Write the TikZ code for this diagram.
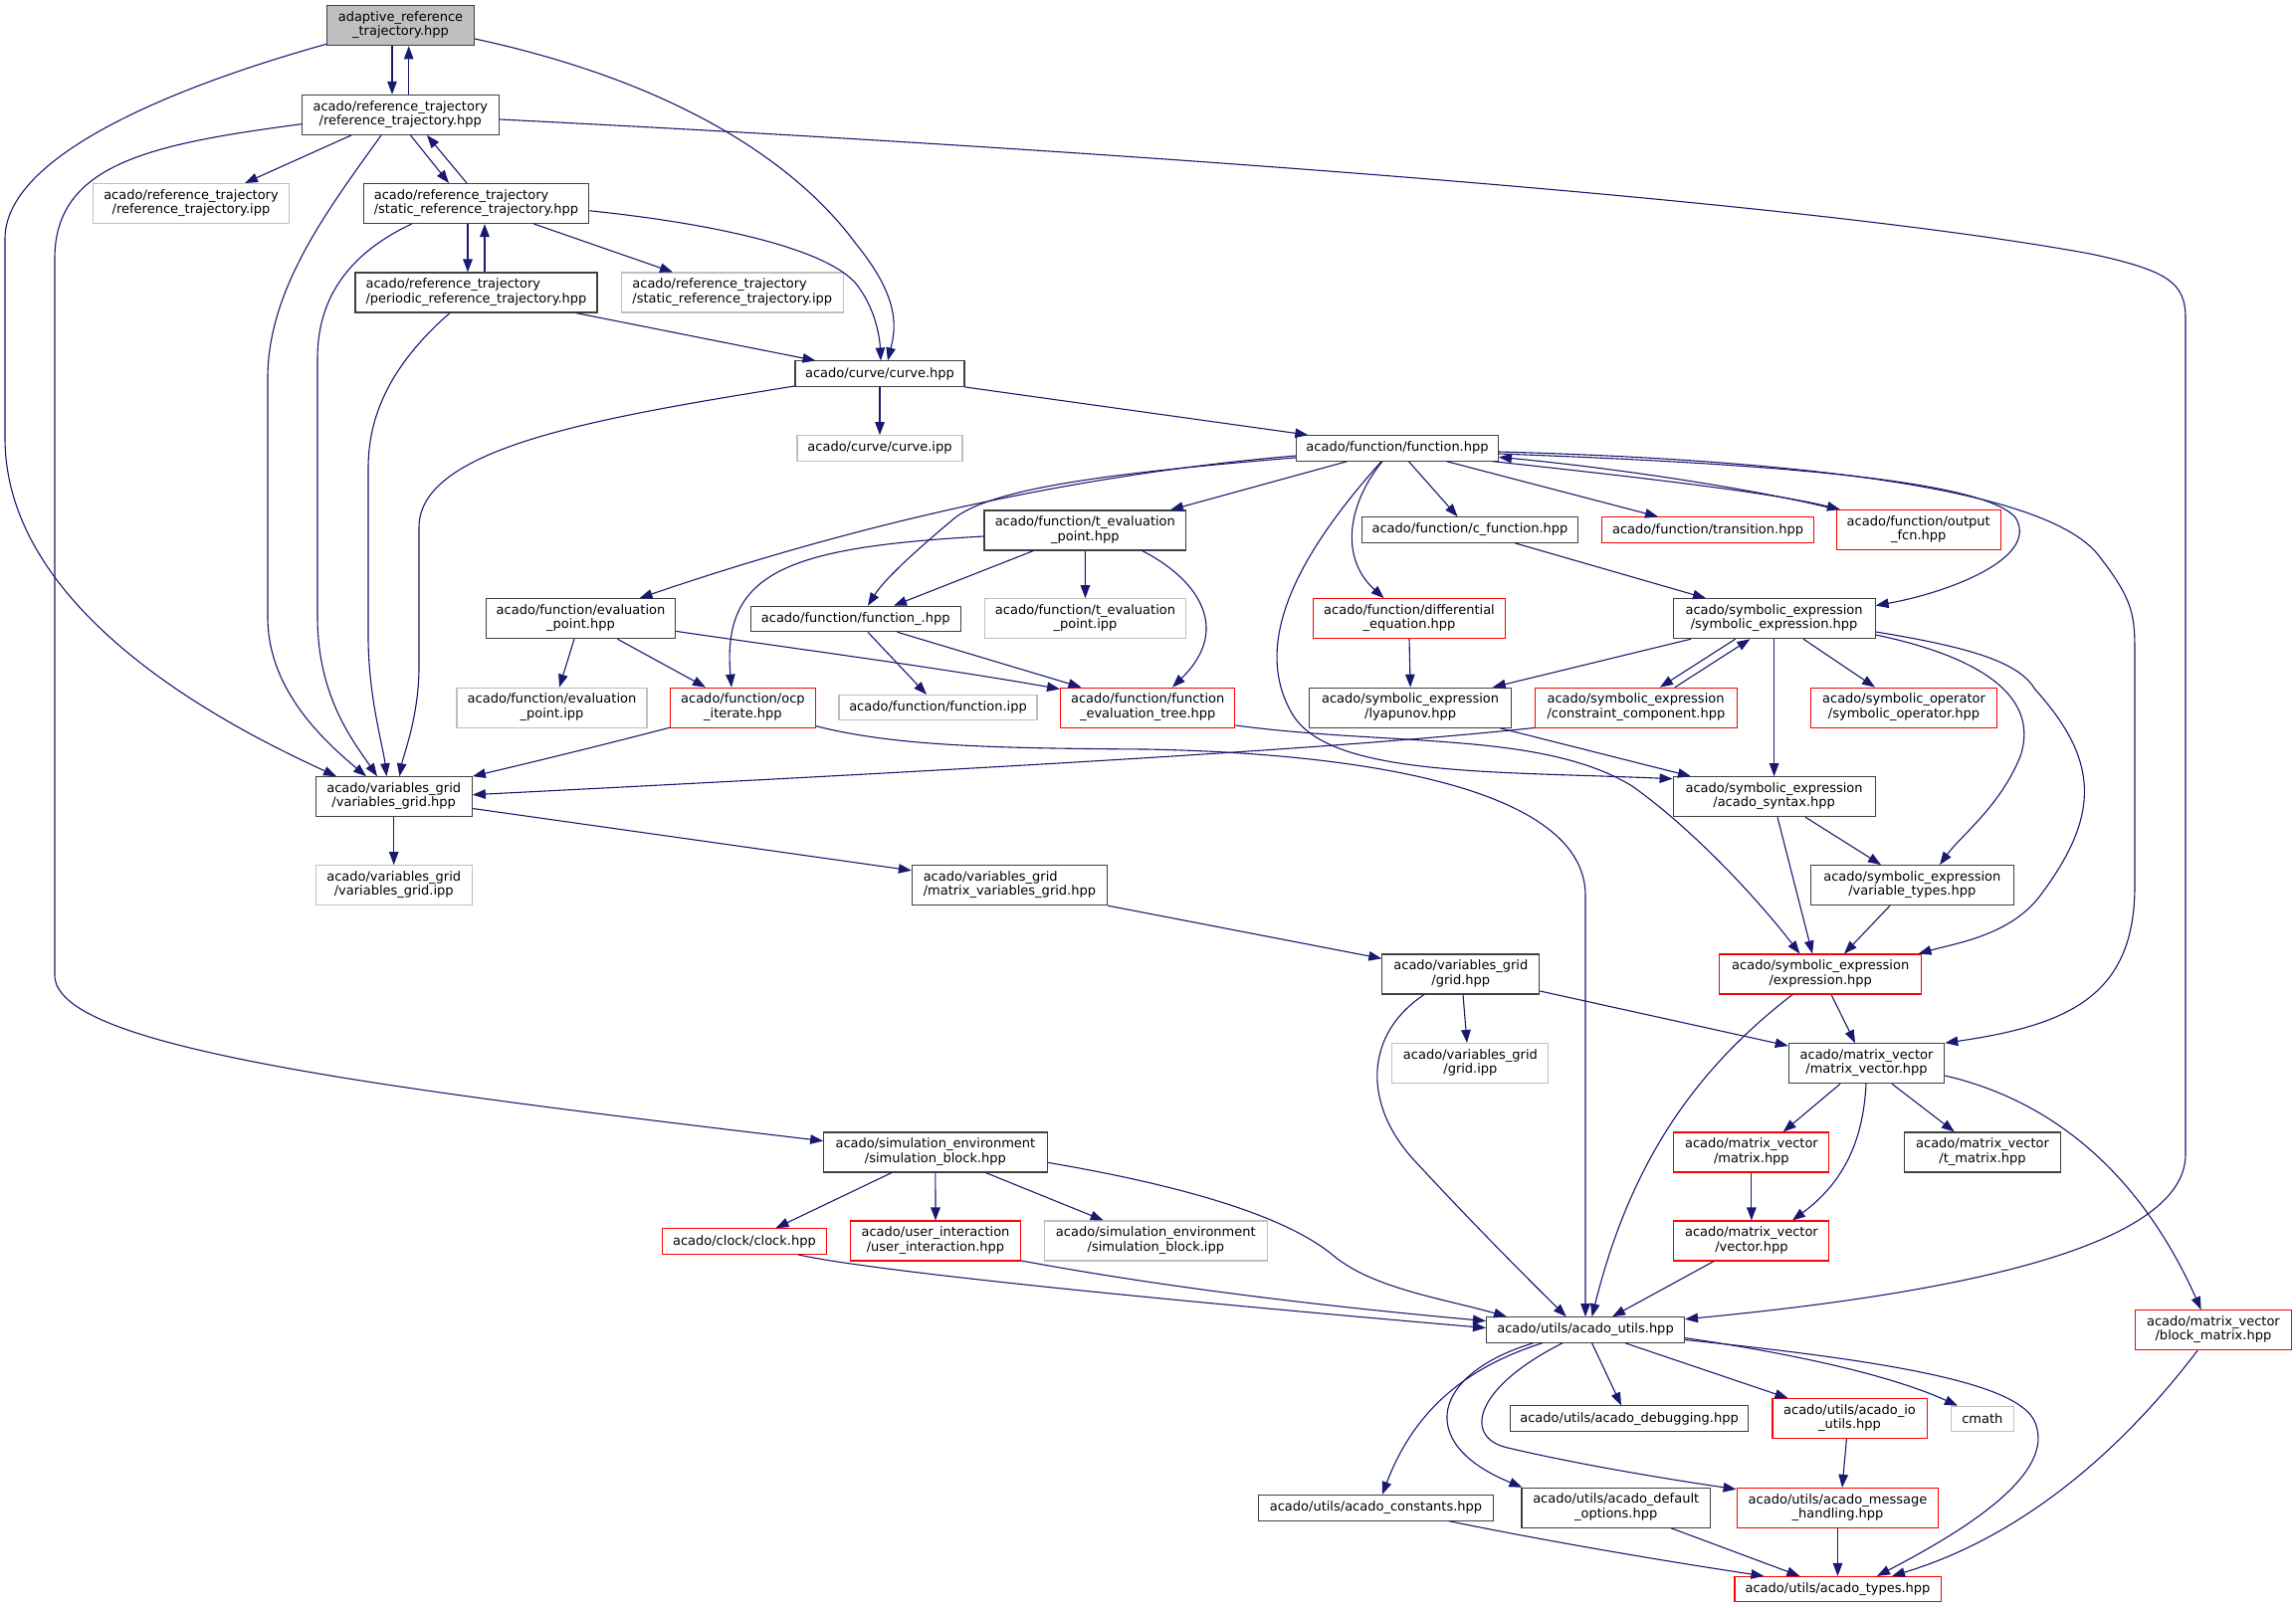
\documentclass[tikz,border=0pt]{standalone}
\usepackage{fontspec}
\setmainfont{DejaVu Sans}
\usetikzlibrary{arrows.meta,calc}
\definecolor{mblue}{HTML}{191970}
\definecolor{gline}{HTML}{BFBFBF}
\definecolor{nline}{HTML}{404040}
\definecolor{rline}{HTML}{FF0000}
\newcommand{\twol}[2]{\begin{tabular}{@{}c@{}}\multicolumn{1}{@{}l@{}}{#1}\\#2\end{tabular}}
\begin{document}
\begin{tikzpicture}[x=1pt,y=-1pt,
  box/.style={draw=nline, fill=white, line width=1.05pt, inner sep=0pt, font=\fontsize{13}{14.5}\selectfont, align=center},
  rbox/.style={box, draw=rline},
  gbox/.style={box, draw=gline},
  root/.style={box, fill=gline},
  one/.style={minimum height=25.5pt},
  tw/.style={minimum height=40pt},
  edg/.style={draw=mblue, line width=1.1pt, -{Triangle[length=13pt,width=9.5pt]}}]
\useasboundingbox (0,0) rectangle (2307,1616);
% nodes
\node[root,tw,minimum width=148pt] (A) at (402.5,25.8) {\twol{adaptive\_reference}{\_trajectory.hpp}};
\node[box,tw,minimum width=198pt] (RT) at (402.3,115.4) {\twol{acado/reference\_trajectory}{/reference\_trajectory.hpp}};
\node[gbox,tw,minimum width=197.6pt] (RTI) at (192,204.5) {\twol{acado/reference\_trajectory}{/reference\_trajectory.ipp}};
\node[box,tw,minimum width=226.7pt] (SRT) at (478.5,204.5) {\twol{acado/reference\_trajectory}{/static\_reference\_trajectory.hpp}};
\node[box,tw,minimum width=243pt] (PRT) at (478.5,294) {\twol{acado/reference\_trajectory}{/periodic\_reference\_trajectory.hpp}};
\node[gbox,tw,minimum width=222.7pt] (SRTI) at (735.8,294) {\twol{acado/reference\_trajectory}{/static\_reference\_trajectory.ipp}};
\node[box,one,minimum width=170pt] (CRV) at (884,375.7) {acado/curve/curve.hpp};
\node[gbox,one,minimum width=166pt] (CRVI) at (884,450.4) {acado/curve/curve.ipp};
\node[box,one,minimum width=202.7pt] (FN) at (1404,450.4) {acado/function/function.hpp};
\node[box,tw,minimum width=202.6pt] (TEP) at (1090.3,533) {\twol{acado/function/t\_evaluation}{\_point.hpp}};
\node[box,one,minimum width=217.6pt] (CF) at (1477,532.5) {acado/function/c\_function.hpp};
\node[rbox,one,minimum width=212.4pt] (TR) at (1716,532.5) {acado/function/transition.hpp};
\node[rbox,tw,minimum width=164.6pt] (OF) at (1927.7,532.5) {\twol{acado/function/output}{\_fcn.hpp}};
\node[box,tw,minimum width=190.5pt] (EP) at (583.5,621.7) {\twol{acado/function/evaluation}{\_point.hpp}};
\node[box,one,minimum width=210.9pt] (FU) at (859.7,622) {acado/function/function\_.hpp};
\node[gbox,tw,minimum width=202.3pt] (TEPI) at (1090.5,621.7) {\twol{acado/function/t\_evaluation}{\_point.ipp}};
\node[rbox,tw,minimum width=193.5pt] (DE) at (1416,621.7) {\twol{acado/function/differential}{\_equation.hpp}};
\node[box,tw,minimum width=203pt] (SE) at (1782.6,621.7) {\twol{acado/symbolic\_expression}{/symbolic\_expression.hpp}};
\node[gbox,tw,minimum width=191pt] (EPI) at (554.5,711.2) {\twol{acado/function/evaluation}{\_point.ipp}};
\node[rbox,tw,minimum width=146pt] (OCP) at (746.4,711.2) {\twol{acado/function/ocp}{\_iterate.hpp}};
\node[gbox,one,minimum width=199pt] (FI) at (942.5,711.2) {acado/function/function.ipp};
\node[rbox,tw,minimum width=175.3pt] (FET) at (1153.2,711.2) {\twol{acado/function/function}{\_evaluation\_tree.hpp}};
\node[box,tw,minimum width=202.4pt] (LY) at (1417.1,711.2) {\twol{acado/symbolic\_expression}{/lyapunov.hpp}};
\node[rbox,tw,minimum width=203pt] (CC) at (1643.9,711.2) {\twol{acado/symbolic\_expression}{/constraint\_component.hpp}};
\node[rbox,tw,minimum width=187pt] (SO) at (1913,711.2) {\twol{acado/symbolic\_operator}{/symbolic\_operator.hpp}};
\node[box,tw,minimum width=157.3pt] (VG) at (395.7,800.7) {\twol{acado/variables\_grid}{/variables\_grid.hpp}};
\node[box,tw,minimum width=203pt] (AS) at (1782.6,800.7) {\twol{acado/symbolic\_expression}{/acado\_syntax.hpp}};
\node[gbox,tw,minimum width=157.3pt] (VGI) at (395.7,889.6) {\twol{acado/variables\_grid}{/variables\_grid.ipp}};
\node[box,tw,minimum width=196pt] (MVG) at (1014.4,889.6) {\twol{acado/variables\_grid}{/matrix\_variables\_grid.hpp}};
\node[box,tw,minimum width=203.5pt] (VT) at (1921.3,889.6) {\twol{acado/symbolic\_expression}{/variable\_types.hpp}};
\node[box,tw,minimum width=158pt] (GR) at (1467.8,979) {\twol{acado/variables\_grid}{/grid.hpp}};
\node[rbox,tw,minimum width=202.5pt] (EX) at (1829.2,979) {\twol{acado/symbolic\_expression}{/expression.hpp}};
\node[gbox,tw,minimum width=157pt] (GRI) at (1477.4,1068.5) {\twol{acado/variables\_grid}{/grid.ipp}};
\node[box,tw,minimum width=156.5pt] (MV) at (1875.5,1068.7) {\twol{acado/matrix\_vector}{/matrix\_vector.hpp}};
\node[box,tw,minimum width=224.5pt] (SB) at (939.9,1158) {\twol{acado/simulation\_environment}{/simulation\_block.hpp}};
\node[rbox,tw,minimum width=156pt] (MX) at (1759.9,1158) {\twol{acado/matrix\_vector}{/matrix.hpp}};
\node[box,tw,minimum width=156.5pt] (TM) at (1992,1158) {\twol{acado/matrix\_vector}{/t\_matrix.hpp}};
\node[rbox,one,minimum width=165.3pt] (CL) at (747.9,1247.5) {acado/clock/clock.hpp};
\node[rbox,tw,minimum width=171pt] (UI) at (940,1247) {\twol{acado/user\_interaction}{/user\_interaction.hpp}};
\node[gbox,tw,minimum width=224pt] (SBI) at (1161.3,1247) {\twol{acado/simulation\_environment}{/simulation\_block.ipp}};
\node[rbox,tw,minimum width=156pt] (VC) at (1759.9,1247) {\twol{acado/matrix\_vector}{/vector.hpp}};
\node[box,one,minimum width=199pt] (AU) at (1593,1336.5) {acado/utils/acado\_utils.hpp};
\node[rbox,tw,minimum width=157pt] (BM) at (2223.9,1336.7) {\twol{acado/matrix\_vector}{/block\_matrix.hpp}};
\node[box,one,minimum width=239pt] (DBG) at (1637,1425.7) {acado/utils/acado\_debugging.hpp};
\node[rbox,tw,minimum width=155pt] (IO) at (1858.5,1425.6) {\twol{acado/utils/acado\_io}{\_utils.hpp}};
\node[gbox,one,minimum width=63pt] (CM) at (1991.8,1426) {cmath};
\node[box,one,minimum width=235.3pt] (CON) at (1382.5,1515.3) {acado/utils/acado\_constants.hpp};
\node[box,tw,minimum width=189.4pt] (DO) at (1623.7,1515.2) {\twol{acado/utils/acado\_default}{\_options.hpp}};
\node[rbox,tw,minimum width=202.8pt] (MH) at (1846.5,1515.4) {\twol{acado/utils/acado\_message}{\_handling.hpp}};
\node[rbox,one,minimum width=207pt] (TY) at (1846.5,1597.2) {acado/utils/acado\_types.hpp};
% edges: adaptive
\draw[edg] ($(A.south)+(-8.5,0)$) -- ($(RT.north)+(-8.3,0)$);
\draw[edg] ($(RT.north)+(8.4,0)$) -- ($(A.south)+(8.2,0)$);
\draw[edg] ($(A.south west)+(0,-2)$) .. controls (200,80) and (5,150) .. (5,240) -- (5,440) .. controls (5,620) and (240,735) .. ($(VG.north west)+(21.5,0)$);
\draw[edg] ($(A.east)+(0,13.2)$) .. controls (690,85) and (805,170) .. (860,245) .. controls (905,300) and (900,330) .. ($(CRV.north)+(8,0)$);
% reference_trajectory
\draw[edg] ($(RT.south)+(-49.3,0)$) -- ($(RTI.north)+(54,0)$);
\draw[edg] ($(RT.south)+(10.2,0)$) -- ($(SRT.north)+(-27.5,0)$);
\draw[edg] ($(SRT.north)+(-9.5,0)$) -- ($(RT.south)+(26.7,0)$);
\draw[edg] ($(RT.south)+(-19.3,0)$) .. controls (330,210) and (269,290) .. (269,380) -- (269,620) .. controls (269,690) and (320,740) .. ($(VG.north)+(-27.7,0)$);
\draw[edg] ($(RT.west)+(0,9.3)$) .. controls (150,145) and (55,165) .. (55,260) -- (55,980) .. controls (55,1050) and (350,1090) .. ($(SB.west)+(0,-11.4)$);
\draw[edg] ($(RT.east)+(0,4.6)$) .. controls (1100,150) and (1800,200) .. (2100,255) .. controls (2180,272) and (2196,285) .. (2196,320) -- (2196,1160) .. controls (2196,1260) and (1930,1303) .. ($(AU.east)+(0,-10.8)$);
% static
\draw[edg] ($(SRT.south)+(-8.5,0)$) -- ($(PRT.north)+(-8.5,0)$);
\draw[edg] ($(PRT.north)+(8.5,0)$) -- ($(SRT.south)+(8.5,0)$);
\draw[edg] ($(SRT.south)+(-64.9,0)$) .. controls (350,255) and (319,300) .. (319,360) -- (319,620) .. controls (319,700) and (355,745) .. ($(VG.north)+(-16.7,0)$);
\draw[edg] ($(SRT.south)+(57.9,0)$) -- ($(SRTI.north)+(-59.8,0)$);
\draw[edg] ($(SRT.east)+(0,7.3)$) .. controls (720,225) and (830,250) .. (860,285) .. controls (880,310) and (884,340) .. ($(CRV.north)+(1,0)$);
% periodic
\draw[edg] ($(PRT.south)+(-26.5,0)$) .. controls (400,360) and (370,410) .. (370,470) -- (370,640) .. controls (370,700) and (385,750) .. ($(VG.north)+(-7.3,0)$);
\draw[edg] ($(PRT.south east)+(-22,0)$) -- ($(CRV.north west)+(21,0)$);
% curve
\draw[edg] ($(CRV.south west)+(0,-1)$) .. controls (600,420) and (421,450) .. (421,530) -- (421,670) .. controls (421,720) and (405,760) .. ($(VG.north)+(5.7,0)$);
\draw[edg] (CRV.south) -- (CRVI.north);
\draw[edg] (CRV.south east) -- ($(FN.north west)+(12.2,0)$);
% function
\draw[edg] ($(FN.west)+(0,7.6)$) .. controls (1100,475) and (880,520) .. ($(EP.north)+(59,0)$);
\draw[edg] ($(FN.west)+(0,9.5)$) .. controls (1120,475) and (1000,490) .. (960,520) .. controls (930,545) and (890,580) .. ($(FU.north)+(12.3,0)$);
\draw[edg] ($(FN.south)+(-50.4,0)$) -- ($(TEP.north)+(85.7,0)$);
\draw[edg] ($(FN.south)+(-15,0)$) .. controls (1355,505) and (1345,560) .. ($(DE.north)+(-25.4,0)$);
\draw[edg] ($(FN.south)+(-16,0)$) .. controls (1320,540) and (1250,640) .. (1300,720) .. controls (1340,780) and (1500,775) .. ($(AS.north west)+(0,2.5)$);
\draw[edg] ($(FN.south)+(11.4,0)$) -- ($(CF.north)+(-12.4,0)$);
\draw[edg] ($(FN.south)+(49.5,0)$) -- ($(TR.north)+(-50,0)$);
\draw[edg] ($(FN.south east)+(-6,0)$) .. controls (1650,480) and (1780,495) .. ($(OF.north west)+(4,0)$);
\draw[edg] (OF.north west) .. controls (1780,495) and (1640,472) .. ($(FN.east)+(0,9)$);
\draw[edg] ($(FN.east)+(0,5.6)$) .. controls (1750,465) and (1990,480) .. (2025,520) .. controls (2050,560) and (1960,595) .. ($(SE.east)+(0,-13.1)$);
\draw[edg] ($(FN.east)+(0,3.6)$) .. controls (1800,462) and (2060,490) .. (2110,560) .. controls (2145,605) and (2145,620) .. (2145,660) -- (2145,890) .. controls (2145,1000) and (2080,1030) .. (MV.north east);
% t_evaluation_point
\draw[edg] ($(TEP.south)+(-51.9,0)$) -- ($(FU.north)+(38.3,0)$);
\draw[edg] (TEP.south) -- (TEPI.north);
\draw[edg] ($(TEP.south)+(57.3,0)$) .. controls (1200,580) and (1240,630) .. ($(FET.north)+(24.8,0)$);
\draw[edg] ($(TEP.west)+(0,6)$) .. controls (790,550) and (725,575) .. ($(OCP.north)+(-11.4,0)$);
% evaluation_point
\draw[edg] ($(EP.south)+(-6.5,0)$) -- ($(EPI.north)+(7.5,0)$);
\draw[edg] ($(EP.south)+(36.9,0)$) -- ($(OCP.north)+(-37.4,0)$);
\draw[edg] ($(EP.east)+(0,12.7)$) .. controls (800,652) and (950,672) .. ($(FET.north west)+(0,1.8)$);
% function_
\draw[edg] ($(FU.south)+(12.3,0)$) -- ($(FI.north)+(-11.5,0)$);
\draw[edg] ($(FU.south)+(41.9,0)$) -- ($(FET.north)+(-66.7,0)$);
% ocp_iterate
\draw[edg] ($(OCP.south west)+(0,-0.5)$) .. controls (620,745) and (560,760) .. (VG.north east);
\draw[edg] ($(OCP.south east)+(0,-2)$) .. controls (900,750) and (1000,752) .. (1152,753) .. controls (1400,758) and (1593,800) .. (1593,900) -- (AU.north);
% evaluation tree
\draw[edg] ($(FET.east)+(0,17.8)$) .. controls (1400,750) and (1550,735) .. (1640,790) .. controls (1710,840) and (1775,915) .. ($(EX.north)+(-20.8,0)$);
% constraint component
\draw[edg] ($(CC.south west)+(0,-0.3)$) .. controls (1350,752) and (1000,772) .. ($(VG.east)+(0,-2)$);
\draw[edg] ($(CC.north)+(39.1,0)$) -- ($(SE.south)+(-24.2,0)$);
% lyapunov, differential, c_function
\draw[edg] ($(LY.south)+(89.9,0)$) -- ($(AS.north west)+(18.4,0)$);
\draw[edg] (DE.south) -- (LY.north);
\draw[edg] ($(CF.south)+(45,0)$) -- ($(SE.north)+(-68.6,0)$);
% symbolic_expression
\draw[edg] ($(SE.south west)+(18.4,0)$) -- ($(LY.north)+(82.7,0)$);
\draw[edg] ($(SE.south)+(-39,0)$) -- ($(CC.north)+(24.1,0)$);
\draw[edg] (SE.south) -- (AS.north);
\draw[edg] ($(SE.south)+(29.4,0)$) -- ($(SO.north)+(-29,0)$);
\draw[edg] ($(SE.east)+(0,16.3)$) .. controls (1990,660) and (2050,700) .. (2030,760) .. controls (2010,810) and (1970,840) .. ($(VT.north)+(27.7,0)$);
\draw[edg] ($(SE.east)+(0,13.3)$) .. controls (1990,652) and (2030,668) .. (2045,693) .. controls (2110,765) and (2110,820) .. (2050,900) .. controls (2020,940) and (1965,948) .. ($(EX.north east)+(-3.5,0)$);
% acado_syntax, variable_types, expression
\draw[edg] ($(AS.south)+(31.4,0)$) -- ($(VT.north)+(-31.3,0)$);
\draw[edg] ($(AS.south)+(3.4,0)$) -- ($(EX.north)+(-8.2,0)$);
\draw[edg] ($(VT.south)+(-22.3,0)$) -- ($(EX.north)+(23.8,0)$);
\draw[edg] ($(EX.south)+(10.8,0)$) -- ($(MV.north)+(-11.5,0)$);
\draw[edg] ($(EX.south)+(-28.2,0)$) .. controls (1710,1070) and (1640,1160) .. ($(AU.north)+(6.6,0)$);
% variables grid
\draw[edg] (VG.south) -- (VGI.north);
\draw[edg] ($(VG.east)+(0,11.8)$) -- ($(MVG.west)+(0,-14.8)$);
\draw[edg] (MVG.south east) -- ($(GR.west)+(0,-15.7)$);
\draw[edg] ($(GR.south)+(2.2,0)$) -- ($(GRI.north)+(-3.4,0)$);
\draw[edg] ($(GR.south)+(-36.8,0)$) .. controls (1370,1040) and (1370,1110) .. (1420,1165) .. controls (1480,1230) and (1540,1290) .. ($(AU.north)+(-19.2,0)$);
\draw[edg] ($(GR.east)+(0,17)$) -- ($(MV.west)+(0,-17.7)$);
% matrix_vector
\draw[edg] ($(MV.south)+(-26.5,0)$) -- ($(MX.north)+(31.8,0)$);
\draw[edg] ($(MV.south)+(-0.5,0)$) .. controls (1872,1150) and (1850,1190) .. ($(VC.north)+(41,0)$);
\draw[edg] ($(MV.south)+(25.5,0)$) -- ($(TM.north)+(-28.2,0)$);
\draw[edg] ($(MV.east)+(0,12.3)$) .. controls (2080,1110) and (2160,1200) .. ($(BM.north)+(-12.3,0)$);
\draw[edg] (MX.south) -- (VC.north);
\draw[edg] ($(VC.south)+(-37.9,0)$) -- ($(AU.north)+(27,0)$);
% simulation block
\draw[edg] ($(SB.south)+(-43.9,0)$) -- ($(CL.north)+(31.6,0)$);
\draw[edg] (SB.south) -- (UI.north);
\draw[edg] ($(SB.south)+(50.5,0)$) -- ($(SBI.north)+(-52.6,0)$);
\draw[edg] ($(SB.east)+(0,10.3)$) .. controls (1180,1190) and (1290,1220) .. (1340,1262) .. controls (1380,1295) and (1450,1305) .. ($(AU.north west)+(21.1,0)$);
\draw[edg] ($(CL.south)+(53.8,0)$) .. controls (840,1270) and (1000,1292) .. ($(AU.west)+(0,-2)$);
\draw[edg] ($(UI.south east)+(0,-0.6)$) .. controls (1150,1290) and (1300,1310) .. ($(AU.west)+(0,-9)$);
% acado_utils
\draw[edg] ($(AU.south)+(6.6,0)$) -- ($(DBG.north)+(-8,0)$);
\draw[edg] ($(AU.south)+(-43.3,0)$) .. controls (1470,1375) and (1420,1420) .. ($(CON.north)+(6.3,0)$);
\draw[edg] ($(AU.south)+(-52.5,0)$) .. controls (1440,1380) and (1420,1450) .. ($(DO.north west)+(1,0)$);
\draw[edg] ($(AU.south)+(-23,0)$) .. controls (1480,1395) and (1470,1445) .. (1515,1455) .. controls (1600,1475) and (1700,1490) .. ($(MH.north west)+(0,1.8)$);
\draw[edg] ($(AU.south)+(40,0)$) -- ($(IO.north west)+(16,0)$);
\draw[edg] ($(AU.east)+(0,8.1)$) .. controls (1800,1360) and (1900,1382) .. ($(CM.north west)+(7.2,0)$);
\draw[edg] ($(AU.east)+(0,10)$) .. controls (1900,1368) and (2030,1390) .. (2045,1430) .. controls (2065,1480) and (1980,1535) .. ($(TY.north)+(39.5,0)$);
% to acado_types
\draw[edg] ($(CON.south)+(72.9,0)$) .. controls (1560,1550) and (1680,1570) .. ($(TY.north west)+(30,0)$);
\draw[edg] ($(DO.south)+(55.3,0)$) -- ($(TY.north)+(-38.1,0)$);
\draw[edg] (MH.south) -- (TY.north);
\draw[edg] ($(IO.south)+(-3.1,0)$) -- ($(MH.north)+(4.5,0)$);
\draw[edg] ($(BM.south)+(-15.9,0)$) .. controls (2130,1460) and (2030,1545) .. ($(TY.north)+(54.5,0)$);
\end{tikzpicture}
\end{document}
